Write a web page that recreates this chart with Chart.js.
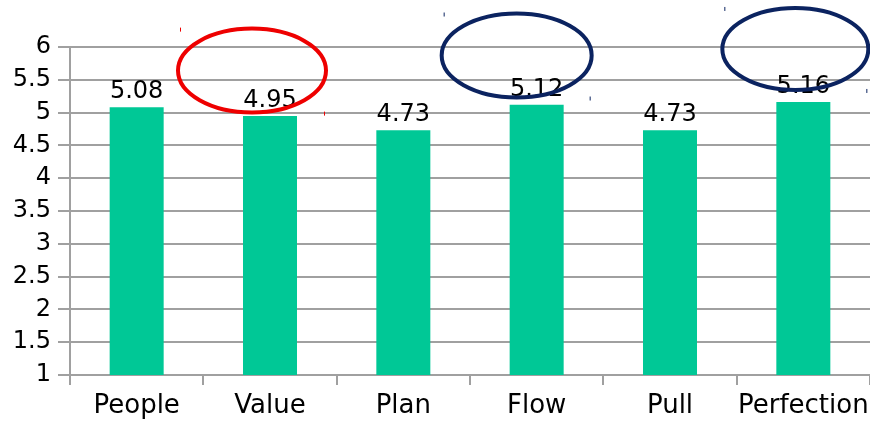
<!DOCTYPE html>
<html>
<head>
<meta charset="utf-8">
<script src="https://cdn.jsdelivr.net/npm/chart.js"></script>
<style>
  html, body { margin: 0; padding: 0; background: #fff; }
  #wrap { width: 870px; height: 423px; position: relative; }
</style>
</head>
<body>
<div id="wrap"><canvas id="grafico"></canvas></div>
<script>
// Dados do gráfico
const categorias = ['People', 'Value', 'Plan', 'Flow', 'Pull', 'Perfection'];
const medias = [5.08, 4.95, 4.73, 5.12, 4.73, 5.16];
const yMin = 1;
const yMax = 6;
const yPasso = 0.5;

// Elipses de destaque: índice da categoria, deslocamento e cor
const destaques = [
    { idx: 1, dx: -18, valor: 5.64, rx: 74, ry: 42, cor: '#ee0000' },
    { idx: 3, dx: -20, valor: 5.87, rx: 75, ry: 42, cor: '#0b2360' },
    { idx: 5, dx: -8, valor: 5.97, rx: 73, ry: 41, cor: '#0b2360' }
];

const corBarra = '#00c896';
const corGrade = '#a0a0a0';
const fonte = 'DejaVu Sans';

// Rótulos com o valor acima de cada barra
const rotulosPlugin = {
    id: 'rotulos',
    afterDatasetsDraw(chart) {
        const ctx = chart.ctx;
        const meta = chart.getDatasetMeta(0);
        ctx.save();
        ctx.fillStyle = '#000';
        ctx.font = '24px "' + fonte + '"';
        ctx.textAlign = 'center';
        ctx.textBaseline = 'alphabetic';
        meta.data.forEach((bar, i) => {
            ctx.fillText(medias[i].toFixed(2), bar.x, bar.y - 9);
        });
        ctx.restore();
    }
};

// Elipses e pequenas marcas de seleção
const elipsesPlugin = {
    id: 'elipses',
    afterDraw(chart) {
        const ctx = chart.ctx;
        const xs = chart.scales.x;
        const ys = chart.scales.y;
        ctx.save();
        destaques.forEach(d => {
            const cx = xs.getPixelForValue(d.idx) + d.dx;
            const cy = ys.getPixelForValue(d.valor);
            ctx.strokeStyle = d.cor;
            ctx.lineWidth = 4;
            ctx.beginPath();
            ctx.ellipse(cx, cy, d.rx, d.ry, 0, 0, Math.PI * 2);
            ctx.stroke();
            // marcas nos cantos
            ctx.lineWidth = 1;
            ctx.beginPath();
            ctx.moveTo(cx - d.rx + 2.5, cy - d.ry - 1);
            ctx.lineTo(cx - d.rx + 2.5, cy - d.ry + 3);
            ctx.moveTo(cx + d.rx - 1.5, cy + d.ry - 1);
            ctx.lineTo(cx + d.rx - 1.5, cy + d.ry + 3);
            ctx.stroke();
        });
        ctx.restore();
    }
};

new Chart(document.getElementById('grafico'), {
    type: 'bar',
    data: {
        labels: categorias,
        datasets: [{
            data: medias,
            backgroundColor: corBarra,
            borderWidth: 0,
            categoryPercentage: 1,
            barPercentage: 0.405
        }]
    },
    options: {
        responsive: true,
        maintainAspectRatio: false,
        animation: false,
        events: [],
        layout: { padding: { top: 47, right: 0, left: 0, bottom: 0 } },
        plugins: {
            legend: { display: false },
            tooltip: { enabled: false }
        },
        scales: {
            x: {
                grid: {
                    offset: true,
                    drawOnChartArea: false,
                    drawTicks: true,
                    tickLength: 10,
                    color: corGrade,
                    lineWidth: 2
                },
                border: { color: corGrade, width: 2 },
                ticks: {
                    color: '#000',
                    font: { family: fonte, size: 26 },
                    padding: 6,
                    maxRotation: 0,
                    autoSkip: false
                },
                afterFit(scale) {
                    scale.height = 48;
                    // o rótulo "Perfection" cabe até a borda, sem recuo extra
                    scale.paddingLeft = 0;
                    scale.paddingRight = 0;
                }
            },
            y: {
                min: yMin,
                max: yMax,
                grid: {
                    color: corGrade,
                    lineWidth: 2,
                    drawTicks: true,
                    tickLength: 12
                },
                border: { color: corGrade, width: 2 },
                ticks: {
                    stepSize: yPasso,
                    color: '#000',
                    font: { family: fonte, size: 24 },
                    padding: 7,
                    callback: v => String(v)
                },
                afterFit(scale) { scale.width = 70; }
            }
        }
    },
    plugins: [rotulosPlugin, elipsesPlugin]
});
</script>
</body>
</html>
